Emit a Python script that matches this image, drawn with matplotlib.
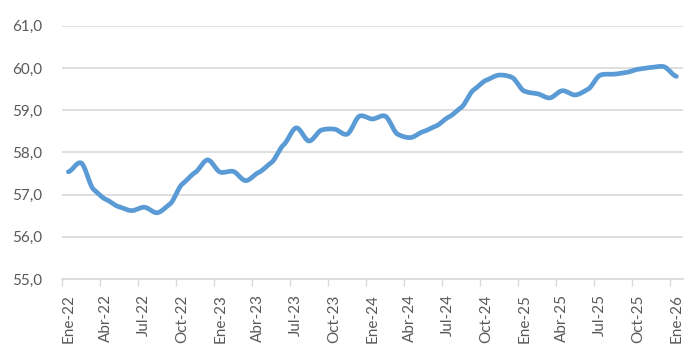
import matplotlib
matplotlib.use("Agg")
import matplotlib.pyplot as plt
import numpy as np

# monthly values, Ene-22 .. Ene-26
values = [57.54, 57.75, 57.12, 56.88, 56.71, 56.62, 56.70, 56.57, 56.77, 57.25,
          57.52, 57.82, 57.53, 57.55, 57.33, 57.52, 57.75, 58.18, 58.58, 58.27,
          58.53, 58.55, 58.43, 58.86, 58.79, 58.86, 58.43, 58.35, 58.49, 58.62,
          58.83, 59.06, 59.48, 59.71, 59.83, 59.78, 59.45, 59.39, 59.29, 59.46,
          59.36, 59.49, 59.83, 59.85, 59.89, 59.97, 60.01, 60.03, 59.80]
months = ["Ene", "Feb", "Mar", "Abr", "May", "Jun", "Jul", "Ago", "Sep", "Oct", "Nov", "Dic"]
labels = ["%s-%d" % (months[i % 12], 22 + i // 12) for i in range(len(values))]

plt.rcParams['font.family'] = ['Lato', 'DejaVu Sans']


def smooth(y, n=20):
    # excel-like smoothed line (hermite curve through the points)
    y = np.asarray(y, float)
    p = np.concatenate([[y[0]], y, [y[-1]]])
    xs, ys = [], []
    for i in range(len(y) - 1):
        p0, p1, p2, p3 = p[i], p[i + 1], p[i + 2], p[i + 3]
        t = np.linspace(0, 1, n, endpoint=False)
        m1 = (p2 - p0) * 0.3
        m2 = (p3 - p1) * 0.3
        h00 = 2 * t**3 - 3 * t**2 + 1
        h10 = t**3 - 2 * t**2 + t
        h01 = -2 * t**3 + 3 * t**2
        h11 = t**3 - t**2
        xs.append(i + t)
        ys.append(h00 * p1 + h10 * m1 + h01 * p2 + h11 * m2)
    xs.append([len(y) - 1])
    ys.append([y[-1]])
    return np.concatenate(xs), np.concatenate(ys)


fig = plt.figure(figsize=(6.99, 3.59), dpi=100)
ax = fig.add_axes([0.0887, 0.2228, 0.888, 0.7056])

sx, sy = smooth(values)
ax.plot(sx, sy, color='#5B9BD5', lw=3.4, solid_capstyle='round', solid_joinstyle='round', zorder=3)

ax.set_xlim(-0.5, len(values) - 0.5)
ax.set_ylim(55, 61)
yt = np.arange(55, 62, 1)
ax.set_yticks(yt)
ax.set_yticklabels([("%.1f" % v).replace('.', ',') for v in yt])
ax.yaxis.grid(True, color='#D9D9D9', lw=1.2)
ax.set_axisbelow(True)

lab_pos = np.arange(0, len(values), 3)
ax.set_xticks(lab_pos)
ax.set_xticklabels([labels[i] for i in lab_pos], rotation=90)
ax.set_xticks(np.arange(-0.5, len(values) - 1, 3), minor=True)
ax.tick_params(axis='x', which='major', length=0, pad=11, labelsize=11, labelcolor='#595959')
ax.tick_params(axis='x', which='minor', length=5, width=1, color='#D9D9D9')
ax.tick_params(axis='y', length=0, pad=14, labelsize=11, labelcolor='#595959')

for s in ['top', 'right', 'left']:
    ax.spines[s].set_visible(False)
ax.spines['bottom'].set_color('#D9D9D9')
ax.spines['bottom'].set_linewidth(1.2)

fig.savefig('out.png', dpi=100)
